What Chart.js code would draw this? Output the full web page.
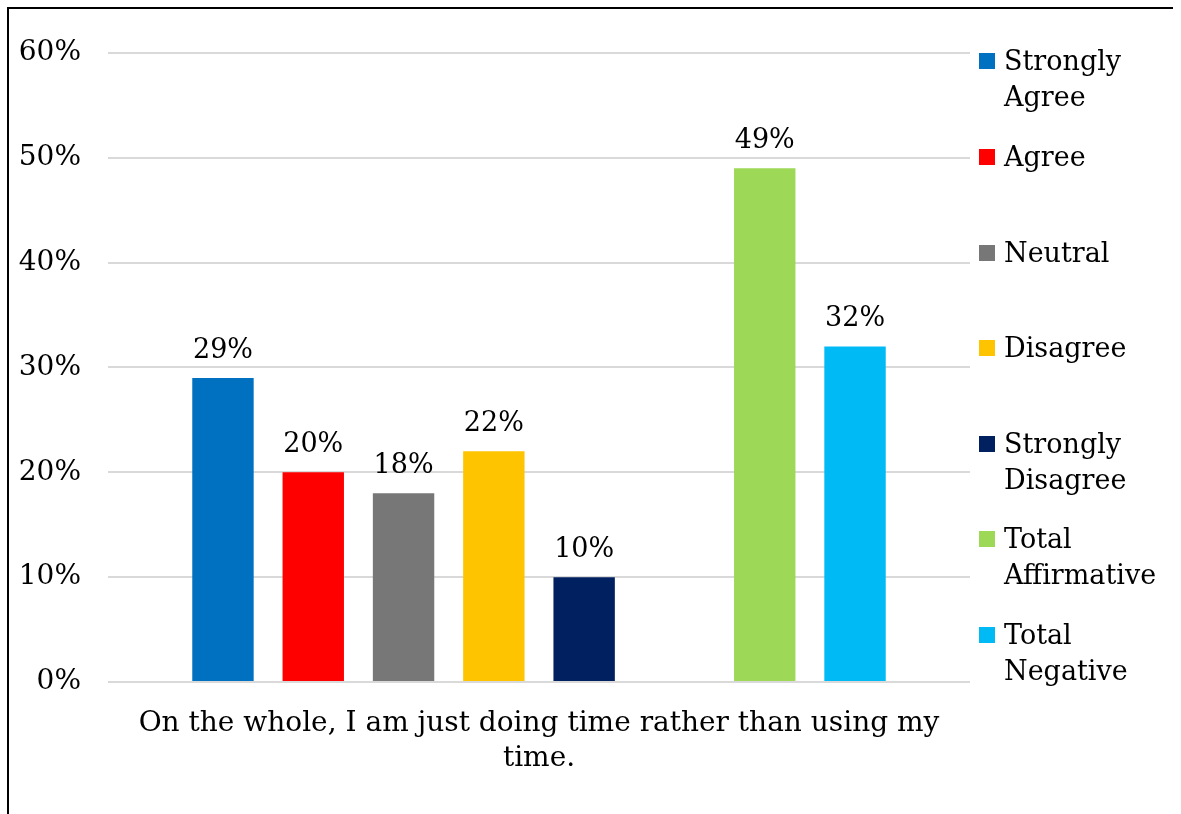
<!DOCTYPE html>
<html>
<head>
<meta charset="utf-8">
<script src="https://cdn.jsdelivr.net/npm/chart.js@4/dist/chart.umd.min.js"></script>
<style>
  html, body { margin: 0; padding: 0; background: #fff; overflow: hidden; }
  #frame {
    position: absolute; left: 7px; top: 7px; width: 1164px; height: 805px;
    border-left: 2px solid #000; border-top: 2px solid #000;
  }
  #legend {
    position: absolute; left: 970px; top: 0; margin: 0; padding: 0; list-style: none;
    font-family: "DejaVu Serif", serif; font-size: 27px; line-height: 36px; color: #000;
  }
  #legend li { position: absolute; left: 0; white-space: nowrap; }
  #legend span.box {
    position: absolute; left: 0; top: 10px; width: 16px; height: 16px;
  }
  #legend span.txt { display: block; margin-left: 25px; }
</style>
</head>
<body>
<div id="frame">
  <canvas id="chart"></canvas>
  <ul id="legend"></ul>
</div>
<script>
// one question, one bar per answer; the blank entry is the gap before the totals
const categories = [["On the whole, I am just doing time rather than using my", "time."]];
const seriesNames = ["Strongly Agree", "Agree", "Neutral", "Disagree", "Strongly Disagree", "", "Total Affirmative", "Total Negative"];
const seriesValues = [29, 20, 18, 22, 10, null, 49, 32];
const seriesColors = ["#0070C0", "#FF0000", "#777777", "#FFC400", "#002060", "#ffffff", "#9DD956", "#00BAF5"];
const legendLines = [["Strongly", "Agree"], ["Agree"], ["Neutral"], ["Disagree"], ["Strongly", "Disagree"], null, ["Total", "Affirmative"], ["Total", "Negative"]];
const yTicks = [0, 10, 20, 30, 40, 50, 60];

const font = "'DejaVu Serif', serif";

const valueLabels = {
  id: "valueLabels",
  afterDatasetsDraw(chart) {
    const ctx = chart.ctx;
    ctx.save();
    ctx.font = "27px " + font;
    ctx.fillStyle = "#000";
    ctx.textAlign = "center";
    ctx.textBaseline = "middle";
    chart.data.datasets.forEach((ds, i) => {
      const meta = chart.getDatasetMeta(i);
      meta.data.forEach((bar, j) => {
        const v = ds.data[j];
        if (v === null) return;
        ctx.fillText(v + "%", bar.x, bar.y - 27);
      });
    });
    ctx.restore();
  }
};

const data = {
  labels: categories,
  datasets: seriesNames.map((name, i) => ({
    label: name,
    data: [seriesValues[i]],
    backgroundColor: seriesColors[i],
    borderWidth: 0
  }))
};

const config = {
  type: "bar",
  data: data,
  options: {
    responsive: true,
    maintainAspectRatio: false,
    animation: false,
    layout: { padding: { top: 43, right: 203, bottom: 0, left: 0 } },
    datasets: { bar: { categoryPercentage: 0.838, barPercentage: 0.68 } },
    scales: {
      x: {
        grid: { display: false },
        border: { display: false },
        ticks: { color: "#000", font: { family: font, size: 28, lineHeight: 1.25 }, padding: 16, maxRotation: 0 },
        afterFit(scale) { scale.height = 132; }
      },
      y: {
        min: 0,
        max: 60,
        afterBuildTicks(scale) { scale.ticks = yTicks.map((v) => ({ value: v })); },
        grid: { color: "#d9d9d9", lineWidth: 2, drawTicks: false },
        border: { display: false },
        ticks: {
          color: "#000",
          font: { family: font, size: 28 },
          padding: 27,
          callback: (v) => v + "%"
        },
        afterFit(scale) { scale.width = 99; }
      }
    },
    plugins: {
      legend: { display: false },
      tooltip: { enabled: false }
    }
  },
  plugins: [valueLabels]
};

const chart = new Chart(document.getElementById("chart"), config);

// legend on the right, built from the datasets
const legend = document.getElementById("legend");
const legendTops = [34, 130, 226, 321, 417, null, 512, 608];
seriesNames.forEach((name, i) => {
  if (!name) return;
  const li = document.createElement("li");
  li.style.top = legendTops[i] + "px";
  const box = document.createElement("span");
  box.className = "box";
  box.style.background = seriesColors[i];
  const txt = document.createElement("span");
  txt.className = "txt";
  txt.innerHTML = legendLines[i].join("<br>");
  li.appendChild(box);
  li.appendChild(txt);
  legend.appendChild(li);
});
</script>
</body>
</html>
